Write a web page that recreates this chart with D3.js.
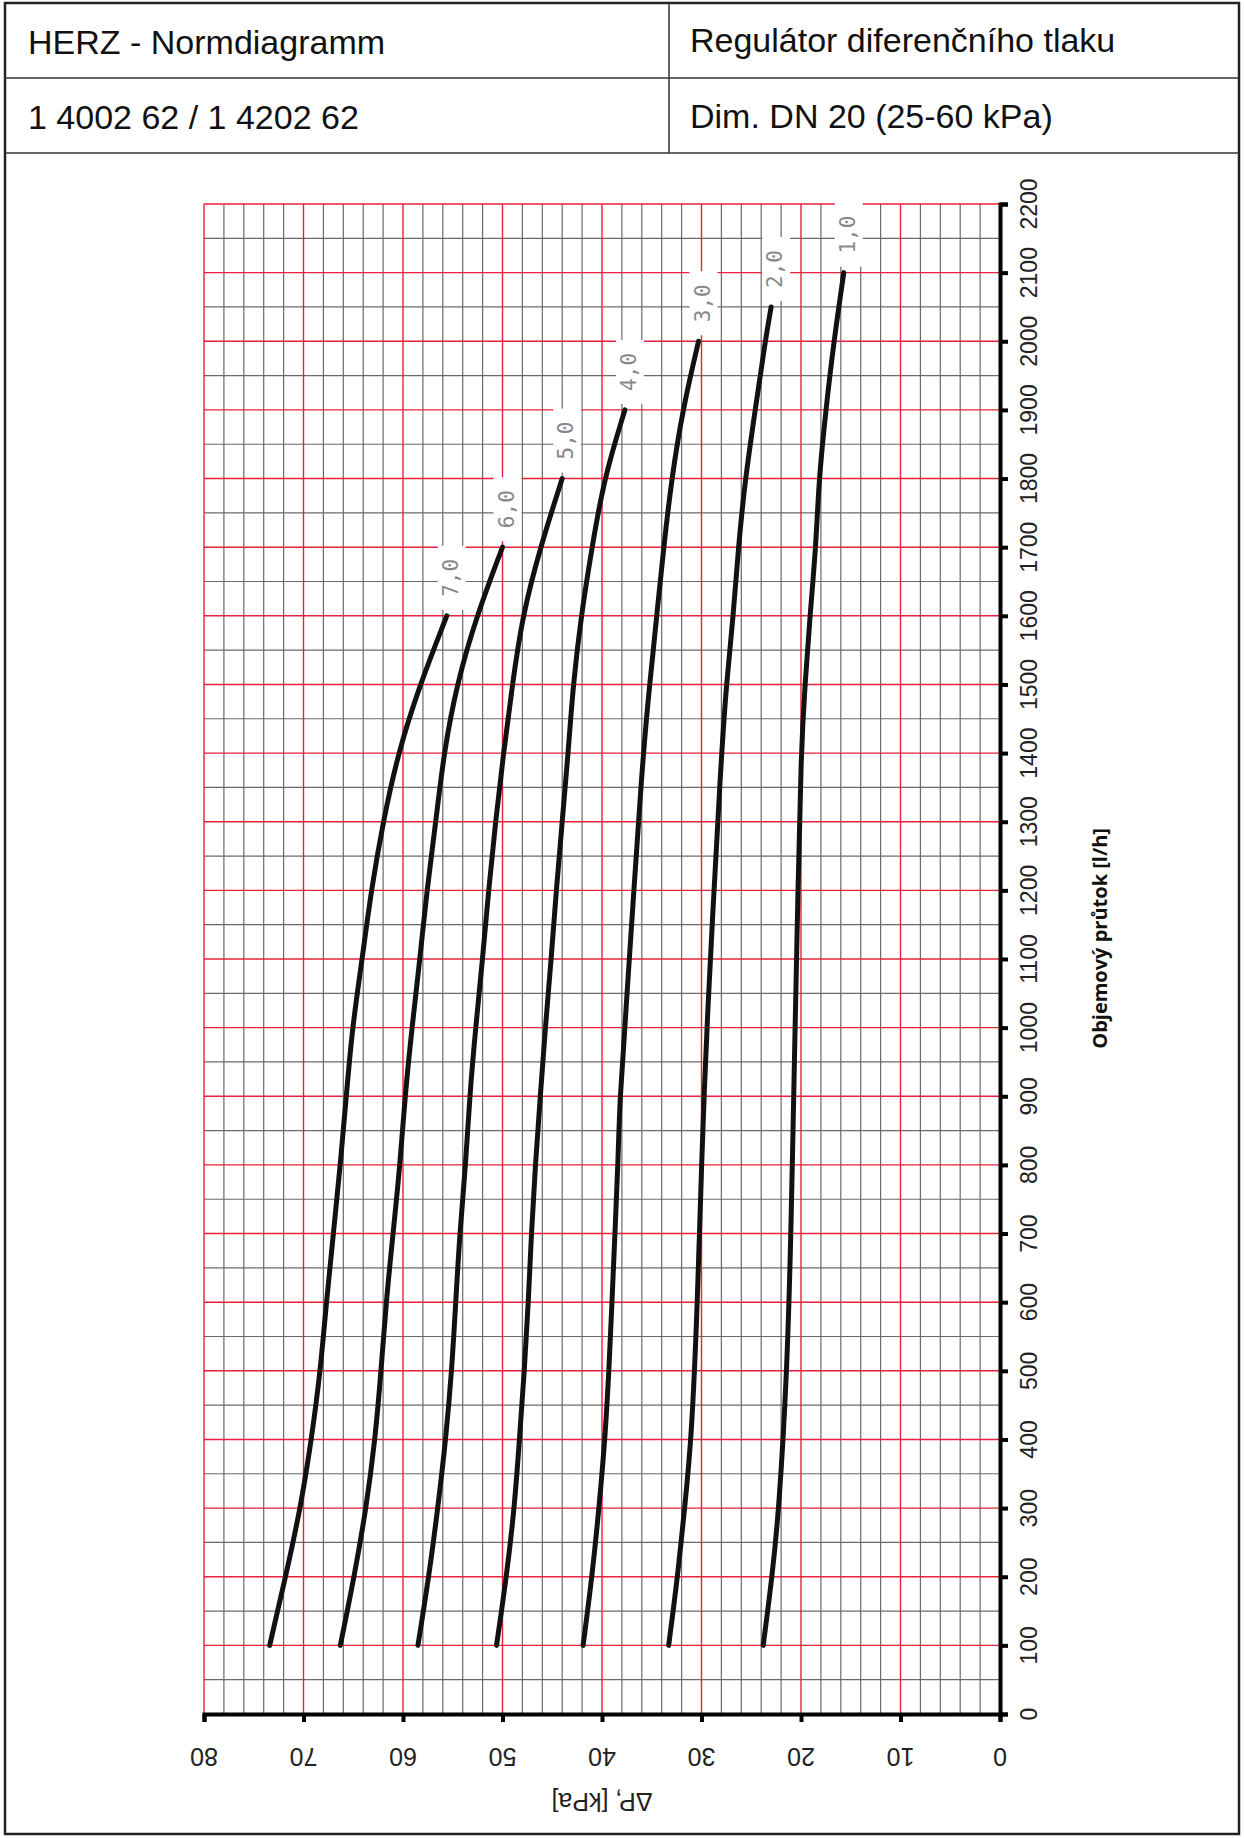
<!DOCTYPE html>
<html><head><meta charset="utf-8">
<script src="https://cdn.jsdelivr.net/npm/d3@7"></script>
<style>body{margin:0;background:#fff}</style>
</head><body><svg id="c"></svg>
<script>
// Curve data: flow [l/h] -> pressure drop [kPa], one array per setting
const settings = ["1,0", "2,0", "3,0", "4,0", "5,0", "6,0", "7,0"];
const flows1 = [100, 200, 300, 500, 700, 1000, 1200, 1400, 1500, 1600, 1700, 1800, 1900, 2000, 2100];
const dp1 = [23.8, 22.9, 22.2, 21.4, 21.0, 20.6, 20.3, 20.0, 19.6, 19.1, 18.5, 18.2, 17.5, 16.7, 15.7];
const flows2 = [100, 200, 300, 400, 600, 800, 1000, 1400, 1500, 1600, 1700, 1800, 1900, 2000, 2050];
const dp2 = [33.3, 32.4, 31.7, 31.0, 30.4, 30.0, 29.5, 28.0, 27.5, 26.8, 26.3, 25.6, 24.6, 23.6, 23.0];
const flows3 = [100, 200, 300, 400, 500, 600, 700, 800, 900, 1000, 1400, 1500, 1600, 1700, 1800, 1900, 2000];
const dp3 = [41.9, 41.0, 40.3, 39.7, 39.3, 39.0, 38.7, 38.4, 38.2, 37.7, 35.9, 35.2, 34.5, 33.8, 33.0, 31.9, 30.3];
const flows4 = [100, 200, 300, 400, 500, 600, 700, 800, 900, 1000, 1100, 1200, 1300, 1400, 1500, 1600, 1700, 1800, 1900];
const dp4 = [50.6, 49.6, 48.8, 48.3, 47.8, 47.4, 47.1, 46.7, 46.2, 45.7, 45.1, 44.6, 44.0, 43.4, 42.9, 42.1, 41.0, 39.8, 37.7];
const flows5 = [100, 200, 300, 400, 500, 600, 700, 800, 900, 1000, 1100, 1200, 1300, 1400, 1500, 1600, 1700, 1800];
const dp5 = [58.5, 57.4, 56.5, 55.7, 55.1, 54.7, 54.3, 53.7, 53.3, 52.7, 52.0, 51.4, 50.7, 49.9, 49.0, 48.0, 46.2, 44.0];
const flows6 = [100, 200, 300, 400, 500, 600, 700, 800, 900, 1000, 1100, 1200, 1300, 1400, 1500, 1600, 1700];
const dp6 = [66.3, 64.9, 63.7, 62.8, 62.2, 61.7, 61.0, 60.3, 59.8, 59.1, 58.3, 57.6, 56.7, 55.9, 54.6, 52.6, 50.0];
const flows7 = [100, 200, 300, 400, 500, 600, 700, 800, 900, 1000, 1100, 1200, 1300, 1400, 1500, 1600];
const dp7 = [73.4, 71.8, 70.3, 69.2, 68.3, 67.7, 67.0, 66.3, 65.7, 65.1, 64.1, 63.2, 62.0, 60.5, 58.3, 55.6];
const curveFlows = [flows1, flows2, flows3, flows4, flows5, flows6, flows7];
const curveDps = [dp1, dp2, dp3, dp4, dp5, dp6, dp7];
const xTicks = [80, 70, 60, 50, 40, 30, 20, 10, 0];
const yTicks = d3.range(0, 2201, 100);

const W = 1244, H = 1838;
const svg = d3.select("#c").attr("width", W).attr("height", H);
const font = "Liberation Sans, Arial, sans-serif";

// header table
svg.append("rect").attr("x", 5).attr("y", 3).attr("width", 1234).attr("height", 1831)
  .attr("fill", "none").attr("stroke", "#222").attr("stroke-width", 2.5);
[78, 153].forEach(y => svg.append("line").attr("x1", 5).attr("x2", 1239).attr("y1", y).attr("y2", y)
  .attr("stroke", "#333").attr("stroke-width", 1.5));
svg.append("line").attr("x1", 669).attr("x2", 669).attr("y1", 3).attr("y2", 153)
  .attr("stroke", "#333").attr("stroke-width", 1.5);
const hdr = [["HERZ - Normdiagramm", 28, 54], ["1 4002 62 / 1 4202 62", 28, 129],
  ["Regulátor diferenčního tlaku", 690, 52], ["Dim. DN 20 (25-60 kPa)", 690, 128]];
hdr.forEach(d => svg.append("text").attr("x", d[1]).attr("y", d[2]).text(d[0])
  .attr("font-family", font).attr("font-size", 34).attr("fill", "#111"));

// scales
const x = d3.scaleLinear().domain([80, 0]).range([204, 1000]);
const y = d3.scaleLinear().domain([0, 2200]).range([1714, 204]);

const g = svg.append("g");
// grid: gray minor lines first, red major lines on top
d3.range(0, 81, 2).filter(v => v % 10 !== 0).forEach(v => g.append("line")
  .attr("x1", x(v)).attr("x2", x(v)).attr("y1", y(2200)).attr("y2", y(0))
  .attr("stroke", "#6a6a6a").attr("stroke-width", 1.2));
d3.range(50, 2201, 100).forEach(v => g.append("line")
  .attr("x1", x(80)).attr("x2", x(0)).attr("y1", y(v)).attr("y2", y(v))
  .attr("stroke", "#6a6a6a").attr("stroke-width", 1.2));
d3.range(0, 81, 10).forEach(v => g.append("line")
  .attr("x1", x(v)).attr("x2", x(v)).attr("y1", y(2200)).attr("y2", y(0))
  .attr("stroke", "#e8203a").attr("stroke-width", 1.4));
d3.range(0, 2201, 100).forEach(v => g.append("line")
  .attr("x1", x(80)).attr("x2", x(0)).attr("y1", y(v)).attr("y2", y(v))
  .attr("stroke", "#e8203a").attr("stroke-width", 1.4));

// axes
g.append("g").attr("transform", `translate(0,${y(0)})`)
  .call(d3.axisBottom(x).tickValues(xTicks).tickSize(8).tickFormat(""))
  .call(a => a.select(".domain").attr("stroke-width", 4))
  .call(a => a.selectAll(".tick line").attr("stroke-width", 4));
g.append("g").attr("transform", `translate(${x(0)},0)`)
  .call(d3.axisRight(y).tickValues(yTicks).tickSize(8).tickFormat(""))
  .call(a => a.select(".domain").attr("stroke-width", 4))
  .call(a => a.selectAll(".tick line").attr("stroke-width", 4));

xTicks.forEach(v => g.append("text")
  .attr("transform", `translate(${x(v)},${y(0) + 41}) rotate(180)`)
  .attr("text-anchor", "middle").attr("dominant-baseline", "middle")
  .attr("font-family", font).attr("font-size", 25).attr("fill", "#222").text(v));
yTicks.forEach(v => g.append("text")
  .attr("transform", `translate(${x(0) + 31},${y(v)}) rotate(-90)`)
  .attr("text-anchor", "middle").attr("dominant-baseline", "middle")
  .attr("font-family", font).attr("font-size", 23).attr("fill", "#222").text(v));

g.append("text").attr("transform", `translate(${x(40)},${y(0) + 86}) rotate(180)`)
  .attr("text-anchor", "middle").attr("dominant-baseline", "middle")
  .attr("font-family", font).attr("font-size", 25).attr("fill", "#222").text("ΔP, [kPa]");
g.append("text").attr("transform", `translate(1102,${y(1130)}) rotate(-90)`)
  .attr("text-anchor", "middle").attr("dominant-baseline", "middle")
  .attr("font-family", "Open Sans, sans-serif").attr("font-weight", "bold")
  .attr("font-size", 20).attr("fill", "#111").text("Objemový průtok [l/h]");

// curves
const line = d3.line().x(d => x(d[1])).y(d => y(d[0])).curve(d3.curveBasis);
curveFlows.forEach((fl, i) => {
  const pts = fl.map((f, j) => [f, curveDps[i][j]]);
  g.append("path").attr("d", line(pts)).attr("fill", "none")
    .attr("stroke", "#111").attr("stroke-width", 5).attr("stroke-linecap", "round");
  const end = pts[pts.length - 1];
  const lx = x(end[1]) + 5, ly = y(end[0]) - 38;
  g.append("rect").attr("x", lx - 14).attr("y", ly - 32).attr("width", 28).attr("height", 64)
    .attr("fill", "#fff");
  g.append("text").attr("transform", `translate(${lx},${ly}) rotate(-90)`)
    .attr("text-anchor", "middle").attr("dominant-baseline", "middle")
    .attr("font-family", "DejaVu Sans Mono, monospace").attr("font-size", 21)
    .attr("fill", "#888").text(settings[i]);
});
</script></body></html>
